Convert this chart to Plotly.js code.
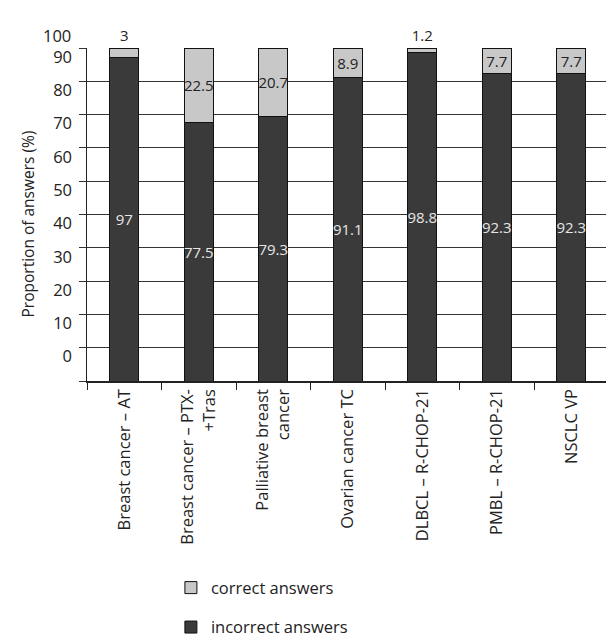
<!DOCTYPE html>
<html>
<head>
<meta charset="utf-8">
<script src="https://cdn.plot.ly/plotly-3.0.1.min.js"></script>
<style>html,body{margin:0;padding:0;background:#fff;}#chart{width:606px;height:638px;}</style>
</head>
<body>
<div id="chart"></div>
<script>
var categories = ["Breast cancer – AT", "Breast cancer – PTX-<br>+Tras", "Palliative breast<br>cancer", "Ovarian cancer TC", "DLBCL – R-CHOP-21", "PMBL – R-CHOP-21", "NSCLC VP"];
var incorrect = [97, 77.5, 79.3, 91.1, 98.8, 92.3, 92.3];
var correct = [3, 22.5, 20.7, 8.9, 1.2, 7.7, 7.7];
var correctTextPos = ["outside", "inside", "inside", "inside", "outside", "inside", "inside"];
var yTickLabels = ["0", "10", "20", "30", "40", "50", "60", "70", "80", "90"];
var gridVals = [0, 10, 20, 30, 40, 50, 60, 70, 80, 90, 100];
// labels sit slightly below their gridline, shifted by one step (as in the original figure)
var labelVals = yTickLabels.map(function (t) { return Number(t) + 10 - 2.7; });

var font = "Open Sans, DejaVu Sans, sans-serif";

var traces = [
  {
    type: "bar", name: "incorrect answers", x: categories, y: incorrect,
    text: incorrect.map(String), textposition: "inside", insidetextanchor: "middle",
    constraintext: "none", textangle: 0,
    insidetextfont: {color: "#e6e6e6", size: 15, family: font},
    marker: {color: "#3a3a3a", line: {color: "#111", width: 1}},
    legendgroup: "inc", legendrank: 2, hoverinfo: "none"
  },
  {
    type: "bar", name: "correct answers", x: categories, y: correct,
    text: correct.map(String), textposition: correctTextPos, insidetextanchor: "middle",
    constraintext: "none", textangle: 0, cliponaxis: false,
    insidetextfont: {color: "#222", size: 15, family: font},
    outsidetextfont: {color: "#222", size: 15, family: font},
    marker: {color: "#c8c8c8", line: {color: "#111", width: 1}},
    legendgroup: "cor", legendrank: 1, hoverinfo: "none"
  },
  {
    type: "scatter", x: [categories[0]], y: [0], yaxis: "y2", mode: "markers",
    marker: {opacity: 0}, showlegend: false, hoverinfo: "none"
  }
];

var layout = {
  width: 606, height: 638,
  margin: {l: 87, r: 0, t: 48, b: 257, autoexpand: false},
  paper_bgcolor: "#fff", plot_bgcolor: "#fff",
  barmode: "stack", bargap: 0.61,
  font: {family: font, color: "#222", size: 16.5},
  showlegend: true,
  legend: {
    xref: "container", yref: "container", x: 0.282, y: 0.106, xanchor: "left", yanchor: "top",
    traceorder: "grouped", tracegroupgap: 15, itemwidth: 30,
    font: {size: 16.5, color: "#222", family: font}
  },
  xaxis: {
    type: "category", range: [-0.5, 6.466], automargin: false,
    tickangle: -90, tickson: "boundaries", ticks: "outside", ticklen: 7,
    tickcolor: "#222", tickwidth: 1,
    showline: true, linecolor: "#222", linewidth: 1.5,
    showgrid: false, tickfont: {size: 16.5, color: "#222"}
  },
  yaxis: {
    range: [0, 100], tickvals: gridVals, showticklabels: false, automargin: false,
    ticks: "outside", ticklen: 7, tickcolor: "#333", tickwidth: 1,
    showgrid: true, gridcolor: "#333", gridwidth: 1,
    showline: true, linecolor: "#222", linewidth: 1.5, zeroline: false
  },
  yaxis2: {
    overlaying: "y", side: "left", range: [0, 100], automargin: false,
    tickvals: labelVals, ticktext: yTickLabels, ticks: "",
    ticklabelstandoff: 14, showgrid: false, zeroline: false, showline: false,
    tickfont: {size: 16.5, color: "#222"}
  },
  annotations: [
    {xref: "paper", yref: "paper", x: 0, y: 1.039, xanchor: "right", yanchor: "middle",
     xshift: -14, text: "100", showarrow: false, font: {size: 16.5, color: "#222"}},
    {xref: "paper", yref: "paper", x: 0, y: 0.5, xanchor: "center", yanchor: "middle",
     xshift: -60, yshift: -10, textangle: -90, text: "Proportion of answers (%)", showarrow: false,
     font: {size: 15.5, color: "#222"}}
  ]
};

Plotly.newPlot("chart", traces, layout, {displayModeBar: false, staticPlot: true});
</script>
</body>
</html>
